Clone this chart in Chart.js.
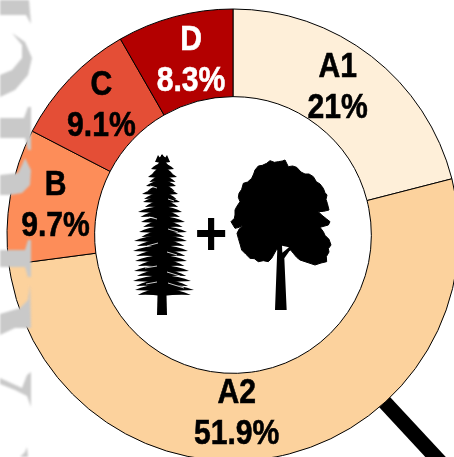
<!DOCTYPE html>
<html>
<head>
<meta charset="utf-8">
<title>Stand composition</title>
<script src="https://cdn.jsdelivr.net/npm/chart.js@4"></script>
<style>
    html, body { margin: 0; padding: 0; background: #fff; overflow: hidden; }
    canvas { display: block; }
</style>
</head>
<body>
<canvas id="standChart" width="454" height="457"></canvas>
<script>
const categories = ['A1', 'A2', 'B', 'C', 'D'];
const shares = [21, 51.9, 9.7, 9.1, 8.3];
const sliceColors = ['#feefd9', '#fcd29d', '#fd8d59', '#e44e36', '#b30000'];
const textColors = ['#000', '#000', '#000', '#000', '#fff'];
const labelNudge = [[-7, -6], [-31, -3], [2, -1], [0, -6], [5, -1]];

// crown outline of the broadleaf, traced at 3x and placed by drawBroadleaf
const crownOutline = [
    [100, 48], [112, 46], [125, 40], [135, 32], [148, 37], [160, 35], [172, 33], [180, 30], [186, 42], [190, 50],
    [203, 48], [215, 52], [228, 66], [240, 72], [252, 72], [265, 80], [274, 95], [285, 102], [295, 115], [300, 128],
    [306, 135], [303, 148], [307, 160], [312, 180], [296, 184], [280, 185], [290, 195], [305, 207], [315, 215],
    [310, 225], [285, 232], [295, 245], [300, 256], [312, 268], [318, 285], [310, 296], [312, 306], [304, 320],
    [305, 335], [288, 339], [270, 345], [255, 340], [240, 335], [225, 330], [215, 322], [205, 310], [197, 300],
    [185, 304], [160, 300], [155, 298], [140, 325], [130, 335], [115, 332], [100, 335], [88, 326], [75, 325], [62, 312], [50, 300],
    [46, 285], [40, 265], [36, 250], [42, 238], [55, 225], [42, 232], [30, 235], [24, 225], [18, 215], [28, 205],
    [30, 195], [30, 180], [35, 170], [45, 155], [40, 142], [42, 130], [50, 118], [55, 100], [68, 96], [80, 85], [86, 72], [90, 60]
];

// tiers of the conifer: y of the whorl, reach to the left, reach to the right
const conifTiers = [
    [161, 6, 8], [168, 11, 12], [176, 14, 15], [185, 16, 14], [193, 20, 16], [201, 19, 18], [211, 24, 20],
    [221, 21, 23], [231, 23, 25], [240, 28, 25], [250, 29, 26], [260, 27, 25], [270, 28, 27], [280, 29, 29], [289, 27, 32]
];

// pale slits between the boughs
const conifSlits = [
    [150, 186, 157, 188], [168, 199, 174, 201], [149, 217, 157, 219], [168, 229, 178, 232], [147, 246, 158, 243],
    [167, 252, 177, 255], [145, 268, 157, 266], [167, 272, 180, 276], [146, 284, 157, 282], [168, 283, 184, 288]
];

// faded lettering in the left margin
const marginGlyphs = [
    [[0, 0], [29, 0], [31, 24], [26, 15], [0, 15]],
    [[12, 33], [25, 42], [32, 58], [28, 75], [15, 90], [0, 97], [0, 75], [12, 70], [22, 58], [22, 45]],
    [[0, 118], [24, 118], [28, 107], [31, 107], [31, 150], [28, 150], [25, 138], [0, 138]],
    [[0, 175], [18, 173], [22, 165], [25, 158], [31, 170], [30, 185], [22, 193], [10, 195], [0, 195]],
    [[0, 250], [25, 250], [28, 240], [31, 240], [31, 277], [28, 277], [25, 267], [0, 267]],
    [[0, 314], [20, 308], [28, 300], [30, 285], [31, 328], [15, 328], [0, 335]],
    [[0, 378], [22, 388], [27, 375], [31, 372], [31, 407], [27, 396], [15, 390], [0, 384]],
    [[20, 457], [25, 452], [27, 447], [28, 457]]
];

function fillPoly(ctx, pts, ox, oy, k) {
    ctx.beginPath();
    pts.forEach((p, i) => {
        const x = ox + p[0] * k;
        const y = oy + p[1] * k;
        if (i === 0) ctx.moveTo(x, y);
        else ctx.lineTo(x, y);
    });
    ctx.closePath();
    ctx.fill();
}

function drawBranch(ctx, cx, y, reach, dir) {
    const tip = cx + dir * reach;
    ctx.beginPath();
    ctx.moveTo(cx, y - 5);
    ctx.quadraticCurveTo(cx + dir * reach * 0.6, y - 4, tip, y + 1);
    ctx.quadraticCurveTo(cx + dir * reach * 0.7, y + 1, cx, y + 3);
    ctx.closePath();
    ctx.fill();
    // shorter spray hanging under the main limb
    ctx.beginPath();
    ctx.moveTo(cx, y);
    ctx.quadraticCurveTo(cx + dir * reach * 0.55, y, cx + dir * reach * 0.9, y + 6);
    ctx.quadraticCurveTo(cx + dir * reach * 0.5, y + 5, cx, y + 7);
    ctx.closePath();
    ctx.fill();
}

function drawConifer(ctx) {
    const cx = 162;
    ctx.fillStyle = '#000';
    fillPoly(ctx, [[161, 155], [163, 155], [167, 315], [157, 315]], 0, 0, 1);
    conifTiers.forEach(t => {
        drawBranch(ctx, cx, t[0], t[1], -1);
        drawBranch(ctx, cx, t[0], t[2], 1);
    });
    fillPoly(ctx, [[158, 155], [160, 158], [162, 154], [165, 158], [167, 155], [170, 162], [155, 162]], 0, 0, 1);

    ctx.strokeStyle = '#fff';
    ctx.lineWidth = 0.8;
    conifSlits.forEach(s => {
        ctx.beginPath();
        ctx.moveTo(s[0], s[1]);
        ctx.lineTo(s[2], s[3]);
        ctx.stroke();
    });
}

function drawBroadleaf(ctx) {
    const ox = 225;
    const oy = 150;
    const k = 1 / 3;
    ctx.fillStyle = '#000';
    ctx.strokeStyle = '#000';
    ctx.lineWidth = 1;
    ctx.lineJoin = 'round';
    fillPoly(ctx, crownOutline, ox, oy, k);
    ctx.stroke();
    fillPoly(ctx, [[157, 295], [150, 480], [185, 480], [178, 325], [197, 298], [178, 298]], ox, oy, k);
    ctx.fillStyle = '#fff';
    fillPoly(ctx, [[171, 287], [192, 292], [172, 308]], ox, oy, k);
}

const backdrop = {
    id: 'backdrop',
    beforeDatasetsDraw(chart) {
        // handle of the magnifier, tucked behind the ring
        const ctx = chart.ctx;
        ctx.save();
        ctx.strokeStyle = '#000';
        ctx.lineWidth = 15;
        ctx.beginPath();
        ctx.moveTo(378, 395);
        ctx.lineTo(443, 465);
        ctx.stroke();
        ctx.restore();
    }
};

const ringLabels = {
    id: 'ringLabels',
    afterDatasetsDraw(chart) {
        const ctx = chart.ctx;
        const arcs = chart.getDatasetMeta(0).data;
        ctx.save();
        ctx.textAlign = 'center';
        ctx.textBaseline = 'alphabetic';
        ctx.lineWidth = 0.6;
        ctx.font = 'bold 35px "Liberation Sans", Arial, sans-serif';
        arcs.forEach((arc, i) => {
            const mid = arc.getCenterPoint();
            const x = mid.x + labelNudge[i][0];
            const y = mid.y + labelNudge[i][1];
            ctx.fillStyle = textColors[i];
            ctx.strokeStyle = textColors[i];
            [categories[i], shares[i] + '%'].forEach((line, j) => {
                ctx.save();
                ctx.translate(x, y + (j === 0 ? -8 : 33));
                ctx.scale(0.86, 1);
                ctx.fillText(line, 0, 0);
                ctx.strokeText(line, 0, 0);
                ctx.restore();
            });
        });
        ctx.restore();
    }
};

const centerArt = {
    id: 'centerArt',
    afterDraw(chart) {
        const ctx = chart.ctx;
        ctx.save();
        drawConifer(ctx);
        drawBroadleaf(ctx);
        ctx.fillStyle = '#000';
        ctx.textAlign = 'center';
        ctx.font = 'bold 56px "Liberation Sans", Arial, sans-serif';
        ctx.translate(211, 255);
        ctx.scale(1, 1.12);
        ctx.fillText('+', 0, 0);
        ctx.restore();

        ctx.save();
        ctx.fillStyle = '#c9c9c9';
        ctx.filter = 'blur(1px)';
        marginGlyphs.forEach(g => fillPoly(ctx, g, 0, 0, 1));
        ctx.restore();
    }
};

// eslint-disable-next-line no-new
new Chart(document.getElementById('standChart'), {
    type: 'doughnut',
    data: {
        labels: categories,
        datasets: [
            {
                data: shares,
                backgroundColor: sliceColors,
                borderColor: '#000',
                borderWidth: 1,
                borderAlign: 'center',
                clip: false,
            },
        ],
    },
    options: {
        responsive: false,
        animation: false,
        radius: 226,
        cutout: 135,
        layout: { padding: { left: 12, top: 13, right: 0, bottom: 0 } },
        plugins: {
            legend: { display: false },
            tooltip: { enabled: false },
        },
    },
    plugins: [backdrop, ringLabels, centerArt],
});
</script>
</body>
</html>
